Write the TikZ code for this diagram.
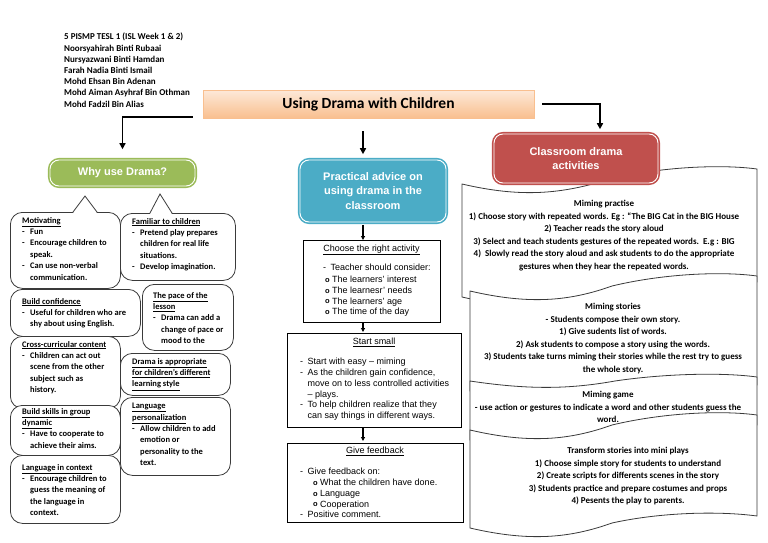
\documentclass[tikz,border=0pt]{standalone}
\usepackage{fontspec}
\setmainfont{Carlito}
\newfontfamily\arialfont{Liberation Sans}
\usetikzlibrary{arrows.meta,calc,positioning}

\definecolor{drgreen}{HTML}{9BBB59}
\definecolor{drteal}{HTML}{4BACC6}
\definecolor{drred}{HTML}{C0504D}
\definecolor{peachtop}{HTML}{FDE9D9}
\definecolor{peachbot}{HTML}{F9BF8F}
\definecolor{bubline}{HTML}{3A3A3A}

\newcommand{\bubdash}{\makebox[8pt][l]{-}}
\newcommand{\bubind}{\hspace*{8pt}}
\newcommand{\advdash}{\makebox[7.5pt][l]{-}}
\newcommand{\advind}{\hspace*{7.5pt}}
\newcommand{\advbullet}{\makebox[7pt][l]{\raisebox{0.05ex}{\fontsize{7.5}{7.5}\selectfont\bfseries o}}}

\tikzset{
  smart/.style={rounded corners=9pt, draw=#1, fill=#1, double=white, double distance=0.9pt,
    line width=1.6pt, text=white, align=center, font=\arialfont\bfseries\fontsize{11}{14.5}\selectfont},
  bubble/.style={draw=bubline, line width=0.8pt, rounded corners=12pt, fill=white, inner sep=0pt, anchor=north west},
  btext/.style={anchor=north west, inner sep=0pt, align=left, font=\bfseries\fontsize{8.5}{11.4}\selectfont},
  advbox/.style={draw=black, line width=0.8pt, fill=white, inner sep=0pt, anchor=north west},
  ptext/.style={inner sep=0pt, align=left, font=\arialfont\fontsize{9}{10.8}\selectfont},
  stext/.style={anchor=north, inner sep=0pt, align=center, font=\bfseries\fontsize{9}{12.6}\selectfont},
  scroll/.style={draw=bubline, line width=0.8pt, fill=white},
  bigarrow/.style={line width=1.8pt, -{Triangle[length=6pt,width=6pt]}},
  smallarrow/.style={line width=1.2pt, -{Triangle[length=4pt,width=4pt]}},
}

\begin{document}
\begin{tikzpicture}[x=1pt,y=-1pt]
\useasboundingbox (0,0) rectangle (768,543);

% group and names
\node[anchor=north west, inner sep=0pt, align=left, font=\bfseries\fontsize{9}{11.2}\selectfont] (authors) at (64,33)
  {5 PISMP TESL 1 (ISL Week 1 \& 2)\\
   Noorsyahirah Binti Rubaai\\
   Nursyazwani Binti Hamdan\\
   Farah Nadia Binti Ismail\\
   Mohd Ehsan Bin Adenan\\
   Mohd Aiman Asyhraf Bin Othman\\
   Mohd Fadzil Bin Alias};

\node[draw=peachbot, top color=peachtop, bottom color=peachbot, minimum width=331pt, minimum height=28pt,
  font=\bfseries\fontsize{15.5}{18}\selectfont] (title) at (368.5,104) {Using Drama with Children};

\coordinate (spine) at (363,0);
\coordinate (rightturn) at (600,0);

% scrolls of activities
\draw[scroll] (462,184) .. controls (522,198) and (562,194) .. (610,179) .. controls (660,167) and (720,164) .. (757,169)
  -- (757,282) .. controls (720,277) and (660,280) .. (610,292) .. controls (562,307) and (522,311) .. (462,297) -- cycle;
\draw[scroll] (470,291) .. controls (530,305) and (570,301) .. (612,286) .. controls (662,274) and (720,271) .. (757,276)
  -- (757,385) .. controls (720,382) and (662,384) .. (615,392) .. controls (570,400) and (530,401) .. (470,391) -- cycle;
\draw[scroll] (470,381) .. controls (530,390) and (570,389) .. (615,381) .. controls (662,374) and (720,372) .. (757,377)
  -- (757,425) .. controls (720,420) and (660,423) .. (610,435) .. controls (562,450) and (530,454) .. (470,440) -- cycle;
\draw[scroll] (470,430) .. controls (530,444) and (570,440) .. (612,425) .. controls (662,413) and (720,410) .. (757,415)
  -- (757,516) .. controls (720,511) and (662,512) .. (612,523) .. controls (570,538) and (530,542) .. (470,528) -- cycle;

\node[stext] (practise) at (604,200) {Miming practise\\
  1) Choose story with repeated words. Eg : “The BIG Cat in the BIG House\\
  2) Teacher reads the story aloud\\
  3) Select and teach students gestures of the repeated words.\ \ E.g : BIG\\
  4)\ \ Slowly read the story aloud and ask students to do the appropriate\\
  gestures when they hear the repeated words.};
\node[stext] (stories) at (613,303) {Miming stories\\
  - Students compose their own story.\\
  1) Give sudents list of words.\\
  2) Ask students to compose a story using the words.\\
  3) Students take turns miming their stories while the rest try to guess\\
  the whole story.};
\node[stext] (game) at (608,391) {Miming game\\
  - use action or gestures to indicate a word and other students guess the\\
  word.};
\node[stext] (plays) at (628,447) {Transform stories into mini plays\\
  1) Choose simple story for students to understand\\
  2) Create scripts for differents scenes in the story\\
  3) Students practice and prepare costumes and props\\
  4) Pesents the play to parents.};

% three headings
\node[smart=drgreen, minimum width=145pt, minimum height=26pt] (why) at (122.5,173) {Why use Drama?};
\node[smart=drteal, minimum width=146pt, minimum height=62pt] (practical) at (373,191) {Practical advice on\\using drama in the\\classroom};
\node[smart=drred, minimum width=164pt, minimum height=49pt] (activities) at (576,158.5) {Classroom drama\\activities};

\draw[bigarrow, shorten <=10pt, shorten >=10pt] ([yshift=1pt]title.south west) -| (why.north);
\draw[bigarrow, shorten <=13pt, shorten >=5pt] (title.south -| spine) -- (practical.north -| spine);
\draw[bigarrow, shorten <=8pt, shorten >=4pt] (title.east) -| (activities.north -| rightturn);

% why use drama bubbles
\node[bubble, minimum width=110pt, minimum height=76pt] (motiv) at (10,212) {};
\node[bubble, minimum width=115pt, minimum height=67pt] (familiar) at (120,213) {};
\fill[white] ($(motiv.north west)+(63,1.2)$) -- (85,196) -- ($(motiv.north west)+(87,1.2)$) -- cycle;
\draw[draw=bubline, line width=0.8pt] ($(motiv.north west)+(63,0)$) -- (85,196) -- ($(motiv.north west)+(87,0)$);
\fill[white] ($(familiar.north west)+(30,1.2)$) -- (160,194) -- ($(familiar.north west)+(52,1.2)$) -- cycle;
\draw[draw=bubline, line width=0.8pt] ($(familiar.north west)+(30,0)$) -- (160,194) -- ($(familiar.north west)+(52,0)$);
\node[btext] (motivtxt) at (22,217) {\underline{Motivating}\\
  \bubdash Fun\\
  \bubdash Encourage children to\\
  \bubind speak.\\
  \bubdash Can use non-verbal\\
  \bubind communication.};
\node[btext] (familiartxt) at (132,218) {\underline{Familiar to children}\\
  \bubdash Pretend play prepares\\
  \bubind children for real life\\
  \bubind situations.\\
  \bubdash Develop imagination.};

\node[bubble, minimum width=130pt, minimum height=47pt] (confid) at (10,289) {};
\node[btext] (confidtxt) at (22,298) {\underline{Build confidence}\\
  \bubdash Useful for children who are\\
  \bubind shy about using English.};
\node[bubble, minimum width=91pt, minimum height=66pt] (pace) at (142,284) {};
\node[btext] (pacetxt) at (153,292) {\underline{The pace of the}\\
  \underline{lesson}\\
  \bubdash Drama can add a\\
  \bubind change of pace or\\
  \bubind mood to the};

\node[bubble, minimum width=110pt, minimum height=72pt] (cross) at (10,336) {};
\node[btext] (crosstxt) at (22,341) {\underline{Cross-curricular content}\\
  \bubdash Children can act out\\
  \bubind scene from the other\\
  \bubind subject such as\\
  \bubind history.};
\node[bubble, minimum width=110pt, minimum height=42pt] (approp) at (120,353) {};
\node[btext] (approptxt) at (132,358) {\underline{Drama is appropriate}\\
  \underline{for children’s different}\\
  \underline{learning style}};

\node[bubble, minimum width=110pt, minimum height=50pt] (skills) at (10,405) {};
\node[btext] (skillstxt) at (22,408) {\underline{Build skills in group}\\
  \underline{dynamic}\\
  \bubdash Have to cooperate to\\
  \bubind achieve their aims.};
\node[bubble, minimum width=110pt, minimum height=78pt] (lang) at (120,397) {};
\node[btext] (langtxt) at (132,403) {\underline{Language}\\
  \underline{personalization}\\
  \bubdash Allow children to add\\
  \bubind emotion or\\
  \bubind personality to the\\
  \bubind text.};
\node[bubble, minimum width=110pt, minimum height=68pt] (context) at (10,455) {};
\node[btext] (contexttxt) at (22,464) {\underline{Language in context}\\
  \bubdash Encourage children to\\
  \bubind guess the meaning of\\
  \bubind the language in\\
  \bubind context.};

% practical advice boxes
\node[advbox, minimum width=137pt, minimum height=82pt] (choose) at (303,240) {};
\node[ptext] (chooseh) at (371.5,250) {\underline{Choose the right activity}};
\node[ptext, anchor=north west] (choosetxt) at (323,264) {\advdash Teacher should consider:\\[1pt]
  \hspace*{2pt}\advbullet The learners’ interest\\
  \hspace*{2pt}\advbullet The learnesr’ needs\\
  \hspace*{2pt}\advbullet The learners’ age\\
  \hspace*{2pt}\advbullet The time of the day};

\node[advbox, minimum width=174pt, minimum height=94pt] (startsmall) at (287,333) {};
\node[ptext] (startsmallh) at (374,342) {\underline{Start small}};
\node[ptext, anchor=north west] (startsmalltxt) at (300,358) {\advdash Start with easy – miming\\
  \advdash As the children gain confidence,\\
  \advind move on to less controlled activities\\
  \advind – plays.\\
  \advdash To help children realize that they\\
  \advind can say things in different ways.};

\node[advbox, minimum width=176pt, minimum height=79pt] (feedback) at (287,443) {};
\node[ptext] (feedbackh) at (375,451) {\underline{Give feedback}};
\node[ptext, anchor=north west] (feedbacktxt) at (300,468) {\advdash Give feedback on:\\
  \hspace*{13pt}\advbullet What the children have done.\\
  \hspace*{13pt}\advbullet Language\\
  \hspace*{13pt}\advbullet Cooperation\\
  \advdash Positive comment.};

\draw[smallarrow, shorten <=2pt] (practical.south -| spine) -- (choose.north -| spine);
\draw[smallarrow, shorten >=1pt] (choose.south -| spine) -- (startsmall.north -| spine);
\draw[smallarrow, shorten >=2pt] (startsmall.south -| spine) -- (feedback.north -| spine);
\end{tikzpicture}
\end{document}
